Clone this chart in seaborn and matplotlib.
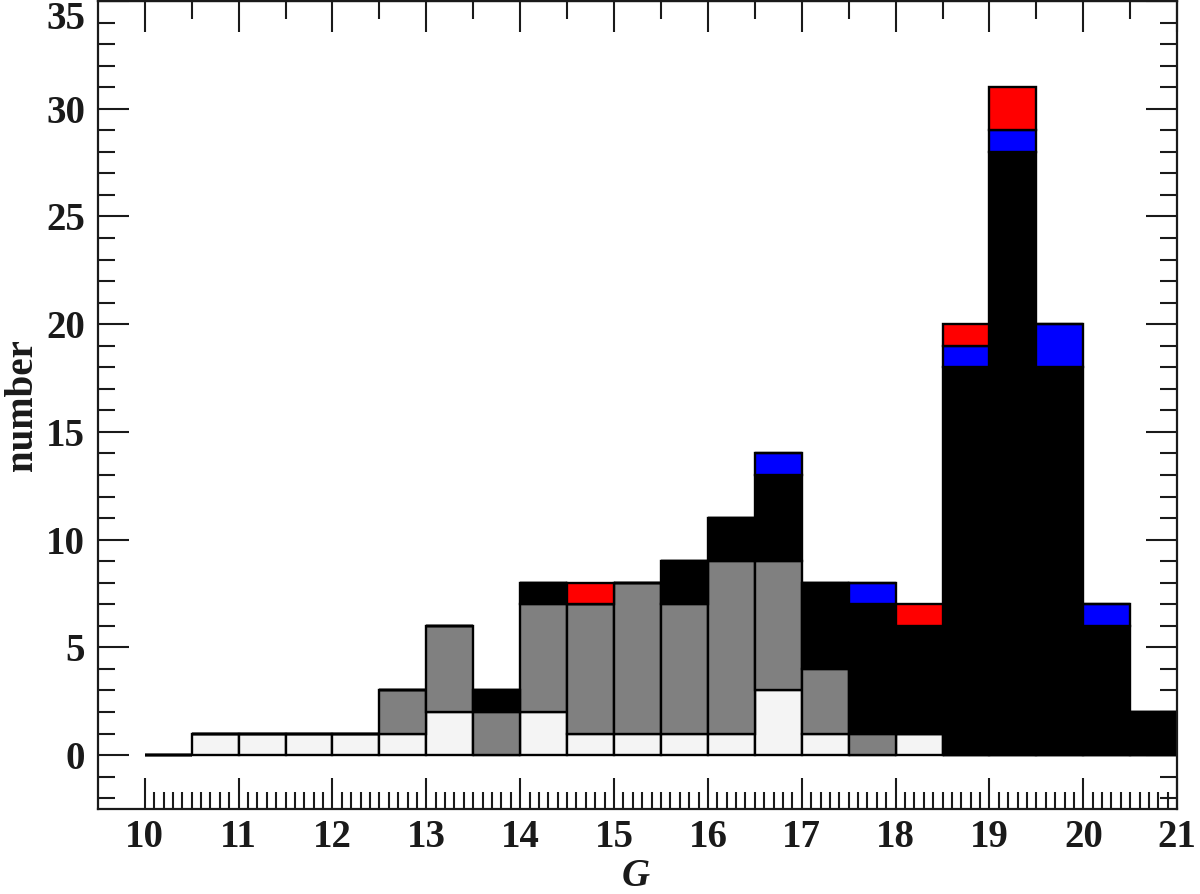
#!/usr/bin/env python3

import numpy as np
import pandas as pd
import matplotlib

matplotlib.use("Agg")
import matplotlib.pyplot as plt
from matplotlib.ticker import MultipleLocator, FixedLocator
import seaborn as sns

# left edges of the 0.5 mag bins
bin_left = [10.0, 10.5, 11.0, 11.5, 12.0, 12.5, 13.0, 13.5, 14.0, 14.5, 15.0,
            15.5, 16.0, 16.5, 17.0, 17.5, 18.0, 18.5, 19.0, 19.5, 20.0, 20.5]

# counts per bin, one list per class (bottom -> top of the stack)
n_light = [0, 1, 1, 1, 1, 1, 2, 0, 2, 1, 1, 1, 1, 3, 1, 0, 1, 0, 0, 0, 0, 0]
n_gray = [0, 0, 0, 0, 0, 2, 4, 2, 5, 6, 7, 6, 8, 6, 3, 1, 0, 0, 0, 0, 0, 0]
n_black = [0, 0, 0, 0, 0, 0, 0, 1, 1, 0, 0, 2, 2, 4, 4, 6, 5, 18, 28, 18, 6, 2]
n_blue = [0, 0, 0, 0, 0, 0, 0, 0, 0, 0, 0, 0, 0, 1, 0, 1, 0, 1, 1, 2, 1, 0]
n_red = [0, 0, 0, 0, 0, 0, 0, 0, 0, 1, 0, 0, 0, 0, 0, 0, 1, 1, 2, 0, 0, 0]

classes = ["light", "gray", "black", "blue", "red"]
colors = {"light": "#f4f4f4", "gray": "#808080", "black": "#000000",
          "blue": "#0000ff", "red": "#ff0000"}

bin_width = 0.5
edges = [float(b) for b in bin_left] + [bin_left[-1] + bin_width]

# long table: one row per bin and class, counts as weights
frames = []
for cls, counts in zip(classes, [n_light, n_gray, n_black, n_blue, n_red]):
    frames.append(pd.DataFrame({
        "G": np.array(bin_left) + bin_width / 2,
        "n": counts,
        "cls": cls,
    }))
df = pd.concat(frames, ignore_index=True)

sns.set_style("ticks")
plt.rcParams["font.family"] = ["Liberation Serif", "DejaVu Serif"]
plt.rcParams["font.weight"] = "bold"

fig = plt.figure(figsize=(12, 8.94), dpi=100)
ax = fig.add_axes([0.0815, 0.0951, 0.8995, 0.9038])

# seaborn stacks the first hue level on top, so reverse the order
sns.histplot(
    data=df,
    x="G",
    weights="n",
    hue="cls",
    hue_order=classes[::-1],
    palette=colors,
    multiple="stack",
    bins=edges,
    edgecolor="black",
    linewidth=1.7,
    alpha=1,
    legend=False,
    ax=ax,
)

ax.set_xlim(9.5, 21.0)
ax.set_ylim(-2.5, 35)

# ticks only start at G = 10
ax.xaxis.set_major_locator(FixedLocator(np.arange(10, 22)))
ax.xaxis.set_minor_locator(FixedLocator(np.round(np.arange(10, 21.01, 0.1), 1)))
ax.yaxis.set_major_locator(MultipleLocator(5))
ax.yaxis.set_minor_locator(MultipleLocator(1))

txt = "#1a1a1a"
ax.tick_params(which="both", direction="in", width=1.5, colors=txt,
               top=False, right=True, labelsize=28)
ax.tick_params(axis="x", pad=7)
ax.tick_params(axis="y", pad=9)
ax.tick_params(which="major", length=22)
ax.tick_params(which="minor", length=12)

fig.canvas.draw()
ylabels = ax.get_yticklabels()
for lab in ax.get_xticklabels() + ylabels:
    lab.set_fontweight("bold")
# the top label sits on the frame edge, push it inside the picture
for lab in ylabels:
    if lab.get_text() == "35":
        lab.set_verticalalignment("top")

# top axis only has ticks every half magnitude
top = ax.secondary_xaxis("top")
top.xaxis.set_major_locator(FixedLocator(np.arange(10, 22)))
top.xaxis.set_minor_locator(FixedLocator(np.arange(10.5, 21, 1.0)))
top.tick_params(which="both", direction="in", width=1.5, colors=txt,
                labeltop=False)
top.tick_params(which="major", length=22)
top.tick_params(which="minor", length=13)
top.spines["top"].set_linewidth(1.6)

for s in ax.spines.values():
    s.set_linewidth(1.6)
    s.set_color(txt)
    s.set_visible(True)

ax.set_xlabel("G", fontsize=28, fontweight="bold", fontstyle="italic",
              color=txt)
ax.xaxis.set_label_coords(0.498, -0.061)
ax.set_ylabel("number", fontsize=28, fontweight="bold", color=txt,
              labelpad=4)

fig.savefig("out.png", dpi=100)
